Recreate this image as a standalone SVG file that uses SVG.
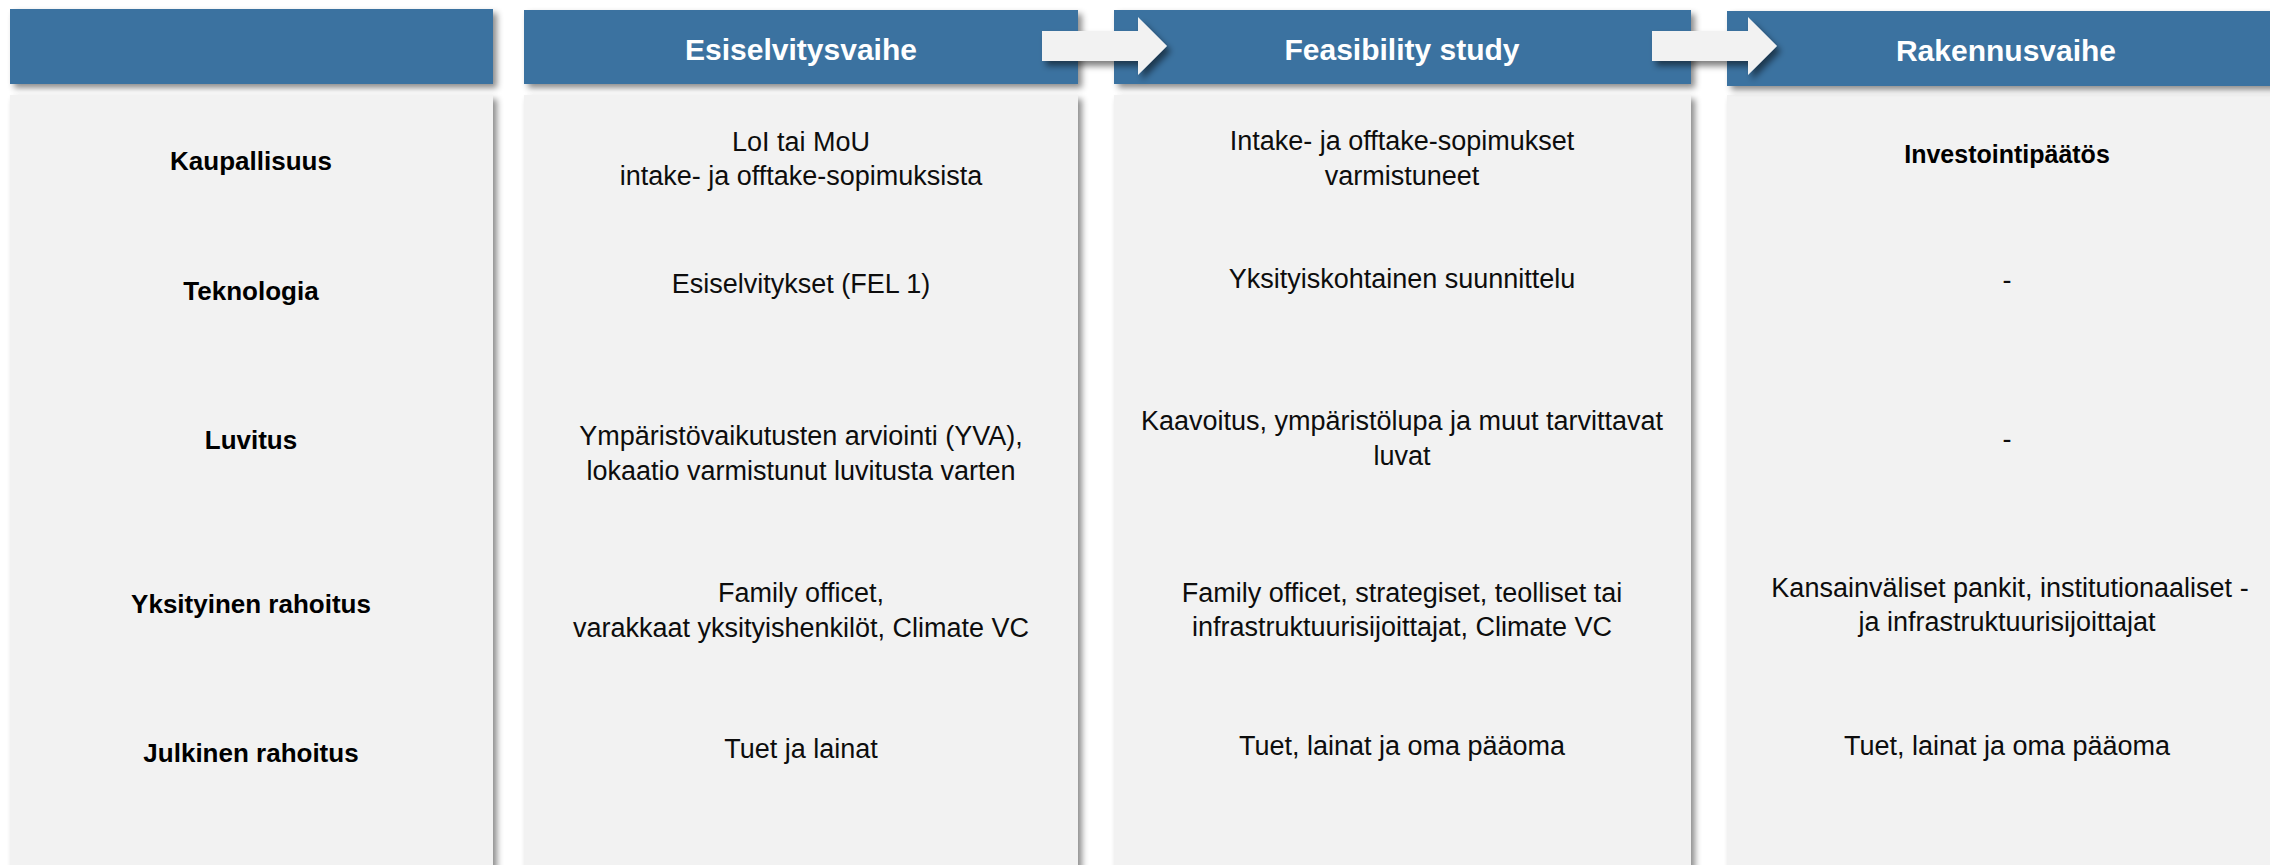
<svg xmlns="http://www.w3.org/2000/svg" width="2270" height="865" viewBox="0 0 2270 865">
<defs>
<filter id="sh" x="-10%" y="-10%" width="130%" height="140%">
<feDropShadow dx="4" dy="4" stdDeviation="3" flood-color="#000" flood-opacity="0.45"/>
</filter>
<filter id="sha" x="-20%" y="-30%" width="150%" height="180%">
<feDropShadow dx="4" dy="5" stdDeviation="3" flood-color="#000" flood-opacity="0.5"/>
</filter>
<style>
.body{fill:#F2F2F2;filter:url(#sh)}
.head{fill:#3A72A0;filter:url(#sh)}
.ht{font-family:"Liberation Sans",Arial,sans-serif;font-weight:bold;font-size:30px;fill:#FFFFFF;text-anchor:middle}
.lab{font-family:"Liberation Sans",Arial,sans-serif;font-weight:bold;font-size:26px;fill:#000;text-anchor:middle}
.t{font-family:"Liberation Sans",Arial,sans-serif;font-size:27px;fill:#0D0D0D;text-anchor:middle}
.tb{font-family:"Liberation Sans",Arial,sans-serif;font-weight:bold;font-size:25px;fill:#000;text-anchor:middle}
.arr{fill:#F2F2F2;filter:url(#sha)}
</style>
</defs>
<rect width="2270" height="865" fill="#FFFFFF"/>

<g id="col-labels">
<rect class="body" x="10" y="95" width="483" height="790"/>
<rect class="head" x="10" y="9" width="483" height="75"/>
<text class="lab" x="251" y="170">Kaupallisuus</text>
<text class="lab" x="251" y="300">Teknologia</text>
<text class="lab" x="251" y="449">Luvitus</text>
<text class="lab" x="251" y="613">Yksityinen rahoitus</text>
<text class="lab" x="251" y="762">Julkinen rahoitus</text>
</g>

<g id="col-esiselvitysvaihe">
<rect class="body" x="524" y="95" width="554" height="790"/>
<rect class="head" x="524" y="10" width="554" height="74"/>
<text class="ht" x="801" y="60">Esiselvitysvaihe</text>
<text class="t" x="801" y="151">LoI tai MoU</text>
<text class="t" x="801" y="185">intake- ja offtake-sopimuksista</text>
<text class="t" x="801" y="293">Esiselvitykset (FEL 1)</text>
<text class="t" x="801" y="445">Ympäristövaikutusten arviointi (YVA),</text>
<text class="t" x="801" y="480">lokaatio varmistunut luvitusta varten</text>
<text class="t" x="801" y="602">Family officet,</text>
<text class="t" x="801" y="637">varakkaat yksityishenkilöt, Climate VC</text>
<text class="t" x="801" y="758">Tuet ja lainat</text>
</g>

<g id="col-feasibility">
<rect class="body" x="1114" y="95" width="577" height="790"/>
<rect class="head" x="1114" y="10" width="577" height="74"/>
<text class="ht" x="1402" y="60">Feasibility study</text>
<text class="t" x="1402" y="150">Intake- ja offtake-sopimukset</text>
<text class="t" x="1402" y="185">varmistuneet</text>
<text class="t" x="1402" y="288">Yksityiskohtainen suunnittelu</text>
<text class="t" x="1402" y="430">Kaavoitus, ympäristölupa ja muut tarvittavat</text>
<text class="t" x="1402" y="465">luvat</text>
<text class="t" x="1402" y="602">Family officet, strategiset, teolliset tai</text>
<text class="t" x="1402" y="636">infrastruktuurisijoittajat, Climate VC</text>
<text class="t" x="1402" y="755">Tuet, lainat ja oma pääoma</text>
</g>

<g id="col-rakennusvaihe">
<rect class="body" x="1727" y="95" width="570" height="790"/>
<rect class="head" x="1727" y="11" width="570" height="75"/>
<text class="ht" x="2006" y="61">Rakennusvaihe</text>
<text class="tb" x="2007" y="163">Investointipäätös</text>
<text class="t" x="2007" y="289">-</text>
<text class="t" x="2007" y="448">-</text>
<text class="t" x="2010" y="597">Kansainväliset pankit, institutionaaliset -</text>
<text class="t" x="2007" y="631">ja infrastruktuurisijoittajat</text>
<text class="t" x="2007" y="755">Tuet, lainat ja oma pääoma</text>
</g>

<g id="connectors">
<polygon class="arr" points="1042,31 1138,31 1138,17 1167,46 1138,75 1138,61 1042,61"/>
<polygon class="arr" points="1652,31 1748,31 1748,17 1777,46 1748,75 1748,61 1652,61"/>
</g>
</svg>
